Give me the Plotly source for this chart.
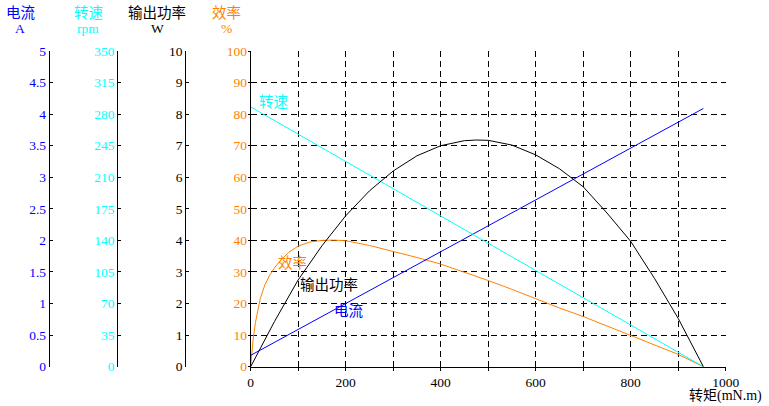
import plotly.graph_objects as go

# ---- data ----
eff_torque = [0, 5, 10, 20, 30, 40, 50, 60, 80, 100, 125, 150, 175, 200, 250, 300, 350,
              400, 450, 475, 500, 550, 600, 650, 700, 750, 800, 850, 900, 953]
efficiency = [0, 8.5, 14, 21.5, 26, 29, 31.3, 33.2, 36.2, 38.2, 39.5, 40, 40.1, 39.9, 38.4, 36.6, 34.6,
              32.5, 30, 28.7, 27.3, 24.5, 21.5, 18.6, 15.9, 12.9, 10.0, 7.0, 3.9, 0]

pow_torque = [0, 50, 100, 150, 200, 250, 300, 350, 400, 450, 475, 500, 550, 600, 650, 700,
              750, 800, 850, 900, 953]
power = [0, 1.43, 2.75, 3.83, 4.78, 5.57, 6.2, 6.68, 7.0, 7.16, 7.18, 7.17, 7.02, 6.71, 6.27, 5.7,
         4.87, 3.97, 2.8, 1.53, 0]

spd_torque = [0, 953]
speed = [288, 0]

cur_torque = [0, 953]
current = [0.18, 4.09]

x_ticks = [0, 200, 400, 600, 800, 1000]
cur_ticks = [0, 0.5, 1, 1.5, 2, 2.5, 3, 3.5, 4, 4.5, 5]
rpm_ticks = [0, 35, 70, 105, 140, 175, 210, 245, 280, 315, 350]
w_ticks = [0, 1, 2, 3, 4, 5, 6, 7, 8, 9, 10]
eff_ticks = [0, 10, 20, 30, 40, 50, 60, 70, 80, 90, 100]

# ---- styles ----
W, H = 769, 406
BLUE = "#0000FF"
CYAN = "#00FFFF"
ORANGE = "#FF8000"
BLACK = "#000000"
NUM_FONT = "Liberation Serif, Noto Sans CJK SC"
CJK_FONT = "Noto Sans CJK SC, Liberation Serif"
CJK_SIZE = 14.5
NUM_SIZE = 13.5

x0, x1 = 250.7, 725.7
y0, y1 = 366.7, 51.0

def px(x):
    return x / W

def py(y):
    return 1 - y / H

fig = go.Figure()
fig.add_trace(go.Scatter(x=cur_torque, y=current, mode="lines", line=dict(color=BLUE, width=1),
                         yaxis="y2", showlegend=False))
fig.add_trace(go.Scatter(x=spd_torque, y=speed, mode="lines", line=dict(color=CYAN, width=1),
                         yaxis="y3", showlegend=False))
fig.add_trace(go.Scatter(x=pow_torque, y=power, mode="lines", line=dict(color=BLACK, width=1),
                         yaxis="y4", showlegend=False))
fig.add_trace(go.Scatter(x=eff_torque, y=efficiency, mode="lines", line=dict(color=ORANGE, width=1),
                         yaxis="y", showlegend=False))

common_side = dict(showgrid=False, zeroline=False, showline=True, linecolor=BLACK, linewidth=1,
                   ticks="inside", ticklen=3, tickcolor=BLACK, side="left",
                   anchor="free", overlaying="y", automargin=False)

fig.update_layout(
    width=W, height=H,
    autosize=False,
    margin=dict(l=0, r=0, t=0, b=0, pad=0, autoexpand=False),
    paper_bgcolor="white", plot_bgcolor="white",
    font=dict(family=NUM_FONT, size=NUM_SIZE, color=BLACK),
    xaxis=dict(domain=[px(x0), px(x1)], range=[0, 1000], tickvals=x_ticks,
               ticktext=[str(v) for v in x_ticks], automargin=False,
               showline=True, linecolor=BLACK, linewidth=1, zeroline=False,
               ticks="outside", ticklen=3, tickcolor=BLACK,
               minor=dict(dtick=100, ticks="outside", ticklen=3, tickcolor=BLACK,
                          showgrid=True, gridcolor=BLACK, griddash="6px,4px", gridwidth=1),
               showgrid=True, gridcolor=BLACK, griddash="6px,4px", gridwidth=1,
               tickfont=dict(color=BLACK, size=NUM_SIZE)),
    yaxis=dict(domain=[py(y0), py(y1)], range=[0, 100], tickvals=eff_ticks, automargin=False,
               showline=True, linecolor=BLACK, linewidth=1, zeroline=False,
               ticks="outside", ticklen=2, tickcolor=BLACK, ticklabelstandoff=-2,
               showgrid=True, gridcolor=BLACK, griddash="6px,4px", gridwidth=1,
               tickfont=dict(color=ORANGE, size=NUM_SIZE)),
    yaxis2=dict(range=[0, 5], tickvals=cur_ticks, position=px(48.7),
                tickfont=dict(color=BLUE, size=NUM_SIZE), **common_side),
    yaxis3=dict(range=[0, 350], tickvals=rpm_ticks, position=px(117.3),
                tickfont=dict(color=CYAN, size=NUM_SIZE), **common_side),
    yaxis4=dict(range=[0, 10], tickvals=w_ticks, position=px(185.3),
                tickfont=dict(color=BLACK, size=NUM_SIZE), **common_side),
)

# axis headers
heads = [("电流", "A", 20, BLUE), ("转速", "rpm", 88, CYAN),
         ("输出功率", "W", 157, BLACK), ("效率", "%", 226, ORANGE)]
for name, unit, xc, col in heads:
    fig.add_annotation(x=px(xc), y=py(12), xref="paper", yref="paper", text=name,
                       showarrow=False, font=dict(family=CJK_FONT, size=CJK_SIZE, color=col),
                       xanchor="center", yanchor="middle")
    fig.add_annotation(x=px(xc), y=py(28), xref="paper", yref="paper", text=unit,
                       showarrow=False, font=dict(family=NUM_FONT, size=NUM_SIZE, color=col),
                       xanchor="center", yanchor="middle")

# curve labels
labels = [("转速", 273, 101, CYAN), ("效率", 292, 261, ORANGE),
          ("输出功率", 329, 283, BLACK), ("电流", 348, 309, BLUE)]
for t, xc, yc, col in labels:
    fig.add_annotation(x=px(xc), y=py(yc), xref="paper", yref="paper", text=t,
                       showarrow=False, font=dict(family=CJK_FONT, size=CJK_SIZE, color=col),
                       xanchor="center", yanchor="middle")

# x axis title
fig.add_annotation(x=px(764), y=py(396), xref="paper", yref="paper", text="转矩(mN.m)",
                   showarrow=False, font=dict(family=NUM_FONT, size=14, color=BLACK),
                   xanchor="right", yanchor="middle")

fig.write_html("out.html",
               config=dict(displayModeBar=False, staticPlot=True),
               post_script="document.body.style.margin='0';document.body.style.overflow='hidden';")
